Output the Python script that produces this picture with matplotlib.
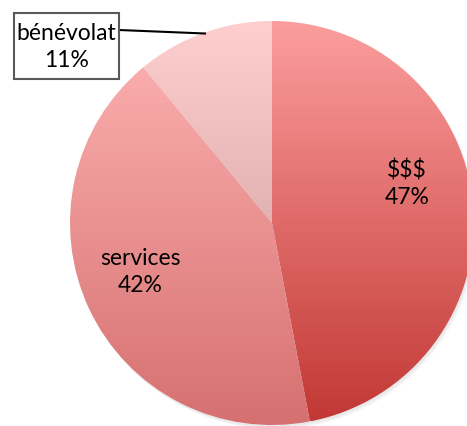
import numpy as np
import matplotlib
matplotlib.use("Agg")
import matplotlib.pyplot as plt
from matplotlib.patches import Rectangle, Circle

# donnees
labels = ["$$$", "services", "bénévolat"]
valeurs = [47, 42, 11]
# couleurs degradees (haut, bas) par part
couleurs_haut = [(252, 158, 158), (250, 172, 172), (255, 206, 206)]
couleurs_bas = [(194, 56, 52), (214, 112, 112), (226, 178, 178)]

W, H = 467, 426
fig = plt.figure(figsize=(W / 100, H / 100), dpi=100)
ax = fig.add_axes([0, 0, 1, 1])

cx, cy, r = 272, H - 223, 202

# ombre
for k, a in enumerate([0.06, 0.06, 0.06]):
    ax.add_patch(Circle((cx + 1 + k, cy - 2 - k), r, color="gray", alpha=a, lw=0, zorder=0))

wedges, _ = ax.pie(valeurs, startangle=90, counterclock=False, center=(cx, cy),
                   radius=r, wedgeprops=dict(linewidth=0))

for w, c1, c2 in zip(wedges, couleurs_haut, couleurs_bas):
    w.set_facecolor("none")
    w.set_zorder(2)
    bb = w.get_path().get_extents(w.get_transform() - ax.transData)
    n = 256
    t = np.linspace(0, 1, n)[:, None]
    c1 = np.array(c1) / 255.0
    c2 = np.array(c2) / 255.0
    grad = (c1[None, :] * (1 - t) + c2[None, :] * t)[:, None, :]
    im = ax.imshow(grad, extent=(bb.x0, bb.x1, bb.y0, bb.y1), origin="upper",
                   aspect="auto", zorder=1, interpolation="bilinear")
    im.set_clip_path(w)

ax.set_xlim(0, W)
ax.set_ylim(0, H)
ax.set_aspect("auto")
ax.axis("off")

police = "Lato"
taille = 16.5
ax.text(407, H - 184, "$$$\n47%", ha="center", va="center", fontsize=taille,
        family=police, parse_math=False, linespacing=1.3, zorder=5)
ax.text(140, H - 272, "services\n42%", ha="center", va="center", fontsize=taille,
        family=police, linespacing=1.3, zorder=5)

# etiquette benevolat
ax.add_patch(Rectangle((14, H - 79), 105, 66, facecolor="white", edgecolor="#595959",
                       lw=1.5, zorder=5))
ax.text(66.5, H - 47, "bénévolat\n11%", ha="center", va="center", fontsize=taille,
        family=police, linespacing=1.3, zorder=6)
ax.plot([119, 205], [H - 30, H - 33.5], color="black", lw=1.5, zorder=4)

fig.savefig("out.png", dpi=100)
